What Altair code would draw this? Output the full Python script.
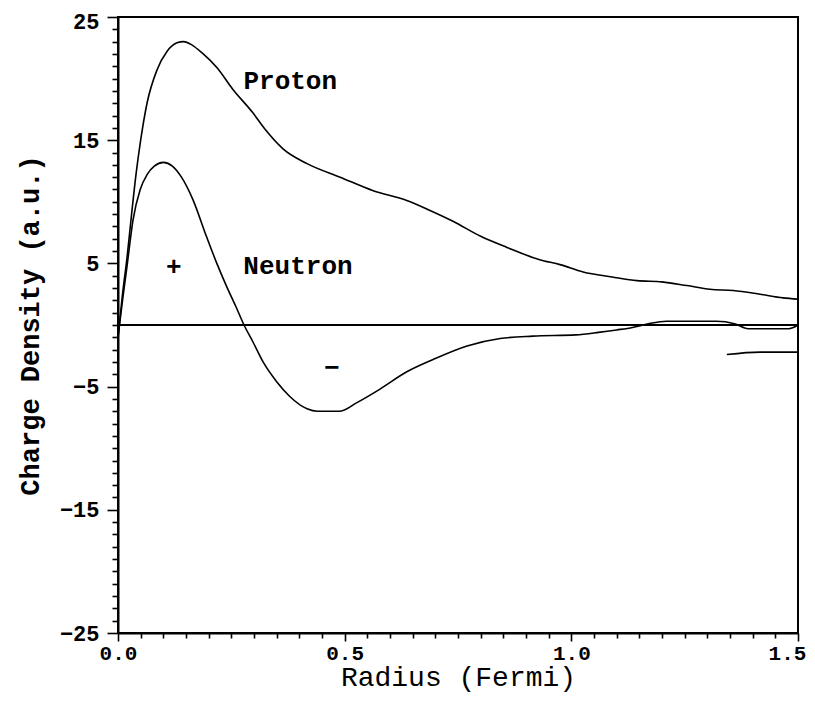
import altair as alt
import pandas as pd

# ---- data ----
proton_r = [0.0, 0.010, 0.020, 0.030, 0.040, 0.050, 0.064, 0.086, 0.108, 0.130, 0.145,
            0.160, 0.188, 0.218, 0.254, 0.298, 0.324, 0.364, 0.417, 0.490, 0.563, 0.637,
            0.682, 0.740, 0.800, 0.858, 0.930, 0.975, 1.026, 1.090, 1.145, 1.200, 1.255,
            1.306, 1.357, 1.416, 1.467, 1.500]
proton_q = [-1.0, 2.5, 5.5, 9.0, 12.3, 15.0, 18.0, 20.7, 22.2, 22.9, 23.0,
            22.8, 22.0, 20.9, 19.1, 17.2, 15.9, 14.3, 13.1, 12.0, 10.9, 10.1,
            9.4, 8.4, 7.2, 6.3, 5.3, 4.9, 4.3, 3.9, 3.6, 3.5, 3.2,
            2.9, 2.8, 2.5, 2.2, 2.1]

neutron_r = [0.0, 0.010, 0.020, 0.033, 0.049, 0.064, 0.080, 0.100, 0.120, 0.140, 0.165,
             0.195, 0.218, 0.240, 0.260, 0.278, 0.298, 0.320, 0.350, 0.379, 0.417, 0.440,
             0.490, 0.527, 0.578, 0.637, 0.695, 0.770, 0.843, 0.915, 1.010, 1.060, 1.100,
             1.135, 1.170, 1.210, 1.320, 1.360, 1.390, 1.480, 1.500]
neutron_q = [-1.0, 2.0, 4.8, 8.5, 11.0, 12.2, 12.9, 13.2, 12.9, 12.0, 10.2,
             7.2, 5.0, 3.1, 1.5, 0.0, -1.4, -3.0, -4.6, -5.8, -6.8, -7.0,
             -7.0, -6.3, -5.2, -3.8, -2.8, -1.7, -1.1, -0.9, -0.8, -0.6, -0.4,
             -0.2, 0.1, 0.3, 0.3, 0.1, -0.3, -0.3, 0.0]

tail_r = [1.343, 1.416, 1.500]
tail_q = [-2.4, -2.2, -2.2]

label_text = ["Proton", "Neutron", "+", "\u2212"]
label_r = [0.380, 0.397, 0.123, 0.472]
label_q = [19.8, 4.8, 4.7, -3.5]

x_ticks = [round(i * 0.05, 2) for i in range(31)]
y_ticks = list(range(-25, 26))

# ---- tables ----
lines = pd.concat([
    pd.DataFrame({"r": proton_r, "q": proton_q, "series": "Proton"}),
    pd.DataFrame({"r": neutron_r, "q": neutron_q, "series": "Neutron"}),
    pd.DataFrame({"r": tail_r, "q": tail_q, "series": "tail"}),
], ignore_index=True)
labels = pd.DataFrame({"r": label_r, "q": label_q, "text": label_text})
zero = pd.DataFrame({"q": [0]})

MONO = "Liberation Mono"

x_major = "abs(datum.value*2 - round(datum.value*2)) < 0.001"
y_major = "abs((datum.value + 25) % 10) < 0.001"

x_enc = alt.X(
    "r:Q",
    scale=alt.Scale(domain=[0, 1.5], nice=False, zero=False),
    axis=alt.Axis(
        values=x_ticks,
        title="Radius (Fermi)",
        titleFont=MONO, titleFontSize=28, titleFontWeight="normal", titleColor="black",
        titleX=340, titleY=44, titleBaseline="middle", titleAlign="center",
        labelExpr=f"({x_major}) ? format(datum.value, '.1f') : ''",
        labelFont=MONO, labelFontSize=21, labelFontWeight="bold", labelColor="black",
        labelOverlap=False, labelFlush=False, labelPadding=1,
        labelOffset={"condition": {"test": "datum.value > 1.49", "value": -11}, "value": 0},
        tickSize={"condition": {"test": x_major, "value": 8}, "value": 5},
        tickColor="black", tickWidth=1.6,
        domainColor="black", domainWidth=2, grid=False,
    ),
)
y_enc = alt.Y(
    "q:Q",
    scale=alt.Scale(domain=[-25, 25], nice=False, zero=False),
    axis=alt.Axis(
        values=y_ticks,
        title="Charge Density (a.u.)",
        titleFont=MONO, titleFontSize=27, titleFontWeight="bold", titleColor="black",
        titleX=-88, titleY=308, titleAngle=270, titleBaseline="middle", titleAlign="center",
        labelExpr=f"({y_major}) ? datum.label : ''",
        labelFont=MONO, labelFontSize=22, labelFontWeight="bold", labelColor="black",
        labelOverlap=False, labelFlush=False, labelPadding=8,
        labelOffset={"condition": {"test": "datum.value > 24.5", "value": 4}, "value": 0},
        tickSize={"condition": {"test": y_major, "value": 11}, "value": 6},
        tickColor="black", tickWidth=1.6,
        domainColor="black", domainWidth=2, grid=False,
    ),
)

curves = alt.Chart(lines).mark_line(color="black", strokeWidth=1.6, interpolate="monotone").encode(
    x=x_enc, y=y_enc, detail="series:N"
)

zero_line = alt.Chart(zero).mark_rule(color="black", strokeWidth=2).encode(y=y_enc)

texts = alt.Chart(labels).mark_text(
    font=MONO, fontSize=26, fontWeight="bold", color="black", align="center", baseline="middle"
).encode(x=x_enc, y=y_enc, text="text:N")

chart = alt.layer(zero_line, curves, texts).properties(
    width=680,
    height=616,
    padding={"left": 110, "top": 9, "right": 9, "bottom": 61},
    autosize=alt.AutoSizeParams(type="none"),
    background="white",
).configure_view(stroke="black", strokeWidth=2)

chart.save("out.html", embed_options={"renderer": "svg", "actions": False})
